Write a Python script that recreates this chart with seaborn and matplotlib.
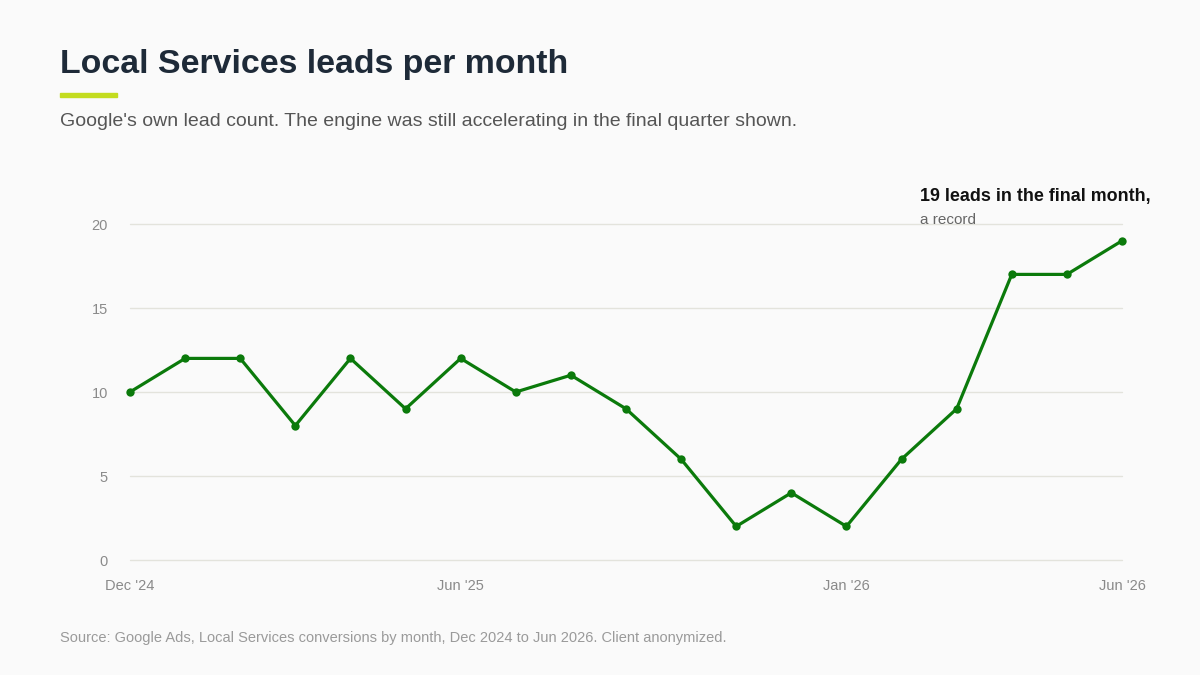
import matplotlib
matplotlib.use("Agg")
import matplotlib.pyplot as plt
import seaborn as sns
import pandas as pd

months = ["Dec '24", "Jan '25", "Feb '25", "Mar '25", "Apr '25", "May '25", "Jun '25",
          "Jul '25", "Aug '25", "Sep '25", "Oct '25", "Nov '25", "Dec '25",
          "Jan '26", "Feb '26", "Mar '26", "Apr '26", "May '26", "Jun '26"]
leads = [10, 12, 12, 8, 12, 9, 12, 10, 11, 9, 6, 2, 4, 2, 6, 9, 17, 17, 19]
tick_labels = ["Dec '24", "Jun '25", "Jan '26", "Jun '26"]
y_ticks = [0, 5, 10, 15, 20]

sns.set_theme(style="white")
plt.rcParams['font.family'] = ['Liberation Sans', 'DejaVu Sans']

BG = "#fafafa"
fig = plt.figure(figsize=(12, 6.75), dpi=100, facecolor=BG)
ax = fig.add_axes([130/1200, 1-560/675, (1122-130)/1200, (560-224)/675])
ax.set_facecolor(BG)

df = pd.DataFrame({"i": range(len(months)), "leads": leads})
sns.lineplot(data=df, x="i", y="leads", ax=ax, color="#0b7a0b", linewidth=2.3,
             marker="o", markersize=6, markeredgewidth=0, clip_on=False, zorder=3)

ax.set_xlim(0, len(months) - 1)
ax.set_ylim(0, 20)
ax.set_yticks(y_ticks)
ax.set_yticklabels([str(v) for v in y_ticks])
pos = [months.index(t) for t in tick_labels]
ax.set_xticks(pos)
ax.set_xticklabels(tick_labels)
ax.set_xlabel("")
ax.set_ylabel("")
ax.grid(axis="y", color="#e3e3dc", linewidth=1)
ax.grid(axis="x", visible=False)
for gl in ax.get_ygridlines():
    gl.set_clip_on(False)
for s in ax.spines.values():
    s.set_visible(False)
ax.tick_params(axis="y", length=0, pad=16, labelsize=10.5, labelcolor="#8a8a8a")
ax.tick_params(axis="x", length=0, pad=14, labelsize=10.5, labelcolor="#8a8a8a")

fig.text(60/1200, 1-64/675, "Local Services leads per month", fontsize=24.4, fontweight="bold",
         color="#1e2a38", va="center", ha="left")
fig.patches.append(plt.Rectangle((60/1200, 1-97/675), 57/1200, 4/675,
                                 transform=fig.transFigure, color="#c3dc1f", figure=fig))
fig.text(60/1200, 1-121/675,
         "Google's own lead count. The engine was still accelerating in the final quarter shown.",
         fontsize=14, color="#555555", va="center", ha="left")
fig.text(920/1200, 1-196/675, "19 leads in the final month,", fontsize=12.9, fontweight="bold",
         color="#111111", va="center", ha="left")
fig.text(920/1200, 1-220/675, "a record", fontsize=11, color="#666666", va="center", ha="left")
fig.text(60/1200, 1-638/675,
         "Source: Google Ads, Local Services conversions by month, Dec 2024 to Jun 2026. Client anonymized.",
         fontsize=10.5, color="#9a9a9a", va="center", ha="left")

fig.savefig("out.png", dpi=100, facecolor=BG)
